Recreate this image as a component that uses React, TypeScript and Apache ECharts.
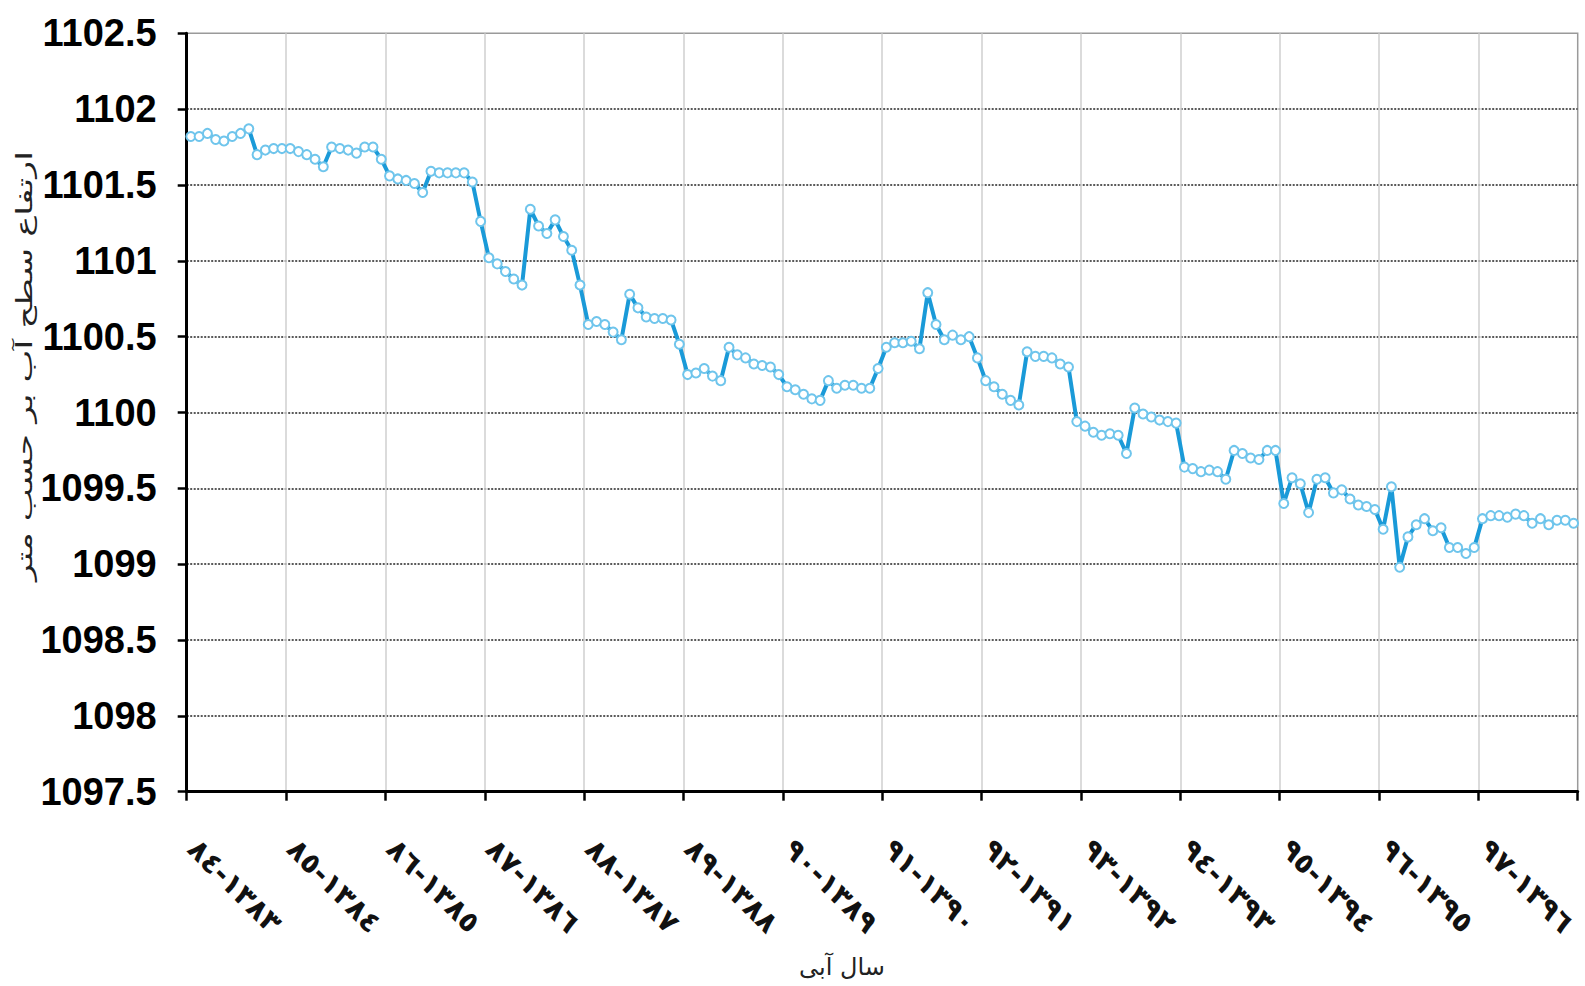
import React, { useEffect, useRef } from "react";
import * as echarts from "echarts";

// Water years (logical order; the bidi algorithm shows them as ٨٤-١٣٨٣ etc.)
const waterYears = [
  "١٣٨٣-٨٤", "١٣٨٤-٨٥", "١٣٨٥-٨٦", "١٣٨٦-٨٧", "١٣٨٧-٨٨", "١٣٨٨-٨٩", "١٣٨٩-٩٠",
  "١٣٩٠-٩١", "١٣٩١-٩٢", "١٣٩٢-٩٣", "١٣٩٣-٩٤", "١٣٩٤-٩٥", "١٣٩٥-٩٦", "١٣٩٦-٩٧",
];

// Monthly water-table elevation (m), one array per water year
const levels1383 = [1101.82, 1101.82, 1101.84, 1101.80, 1101.79, 1101.82, 1101.84, 1101.87, 1101.70, 1101.73, 1101.74, 1101.74];
const levels1384 = [1101.74, 1101.72, 1101.70, 1101.67, 1101.62, 1101.75, 1101.74, 1101.73, 1101.71, 1101.75, 1101.75, 1101.67];
const levels1385 = [1101.56, 1101.54, 1101.53, 1101.51, 1101.45, 1101.59, 1101.58, 1101.58, 1101.58, 1101.58, 1101.52, 1101.26];
const levels1386 = [1101.02, 1100.98, 1100.93, 1100.88, 1100.84, 1101.34, 1101.23, 1101.18, 1101.27, 1101.16, 1101.07, 1100.84];
const levels1387 = [1100.58, 1100.60, 1100.58, 1100.53, 1100.48, 1100.78, 1100.69, 1100.63, 1100.62, 1100.62, 1100.61, 1100.45];
const levels1388 = [1100.25, 1100.26, 1100.29, 1100.24, 1100.21, 1100.43, 1100.38, 1100.36, 1100.32, 1100.31, 1100.30, 1100.25];
const levels1389 = [1100.17, 1100.15, 1100.12, 1100.09, 1100.08, 1100.21, 1100.16, 1100.18, 1100.18, 1100.16, 1100.16, 1100.29];
const levels1390 = [1100.43, 1100.46, 1100.46, 1100.47, 1100.42, 1100.79, 1100.58, 1100.48, 1100.51, 1100.48, 1100.50, 1100.36];
const levels1391 = [1100.21, 1100.17, 1100.12, 1100.08, 1100.05, 1100.40, 1100.37, 1100.37, 1100.36, 1100.32, 1100.30, 1099.94];
const levels1392 = [1099.91, 1099.87, 1099.85, 1099.86, 1099.85, 1099.73, 1100.03, 1099.99, 1099.97, 1099.95, 1099.94, 1099.93];
const levels1393 = [1099.64, 1099.63, 1099.61, 1099.62, 1099.61, 1099.56, 1099.75, 1099.73, 1099.70, 1099.69, 1099.75, 1099.75];
const levels1394 = [1099.40, 1099.57, 1099.53, 1099.34, 1099.56, 1099.57, 1099.47, 1099.49, 1099.43, 1099.39, 1099.38, 1099.36];
const levels1395 = [1099.23, 1099.51, 1098.98, 1099.18, 1099.26, 1099.30, 1099.22, 1099.24, 1099.11, 1099.11, 1099.07, 1099.11];
const levels1396 = [1099.30, 1099.32, 1099.32, 1099.31, 1099.33, 1099.32, 1099.27, 1099.30, 1099.26, 1099.29, 1099.29, 1099.27];

const yearlyLevels = [
  levels1383, levels1384, levels1385, levels1386, levels1387, levels1388, levels1389,
  levels1390, levels1391, levels1392, levels1393, levels1394, levels1395, levels1396,
];

const yMin = 1097.5;
const yMax = 1102.5;
const yStep = 0.5;
const monthsPerYear = 12;

const yTitle = "ارتفاع سطح آب بر حسب متر";
const xTitle = "سال آبی";

export default function App() {
  const ref = useRef<HTMLDivElement>(null);

  useEffect(() => {
    if (!ref.current) return;
    const chart = echarts.init(ref.current, undefined, { renderer: "svg" });

    const months: number[] = [];
    yearlyLevels.forEach((arr) => arr.forEach((v) => months.push(v)));
    const seriesData = months.map((v, i) => [i + 0.5, v]);
    const totalMonths = waterYears.length * monthsPerYear;

    // measure the y title to stretch it along its length like the reference
    const titleFont = "22px 'DejaVu Sans'";
    let scaleLen = 1.7;
    try {
      const c = document.createElement("canvas").getContext("2d");
      if (c) {
        c.font = titleFont;
        const w = c.measureText(yTitle).width;
        if (w > 0) scaleLen = 430 / w;
      }
    } catch (e) {}

    chart.setOption({
      animation: false,
      backgroundColor: "#ffffff",
      grid: {
        left: 186.7,
        right: 7.3,
        top: 33.3,
        bottom: 194.3,
        show: true,
        borderColor: "#9a9a9a",
        borderWidth: 1.5,
        backgroundColor: "transparent",
      },
      xAxis: {
        type: "value",
        min: 0,
        max: totalMonths,
        interval: monthsPerYear,
        axisLine: { show: true, onZero: false, lineStyle: { color: "#000", width: 3 } },
        axisTick: { show: true, length: 9, lineStyle: { color: "#000", width: 2.5 } },
        axisLabel: {
          rotate: -45,
          margin: 46,
          padding: [0, 0, 0, 9],
          fontFamily: "'DejaVu Sans', sans-serif",
          fontWeight: "bold",
          fontSize: 29,
          color: "#111",
          formatter: (v: number) => waterYears[Math.round(v / monthsPerYear)] ?? "",
        },
        splitLine: {
          show: true,
          showMinLine: false,
          showMaxLine: false,
          lineStyle: { color: "#cfcfcf", width: 1.5 },
        },
      },
      yAxis: {
        type: "value",
        min: yMin,
        max: yMax,
        interval: yStep,
        axisLine: { show: true, lineStyle: { color: "#000", width: 3 } },
        axisTick: { show: true, length: 9, lineStyle: { color: "#000", width: 2.5 } },
        axisLabel: {
          margin: 30,
          fontFamily: "'Liberation Sans Narrow', 'Arial Narrow', 'Liberation Sans', Arial, sans-serif",
          fontWeight: "bold",
          fontSize: 38,
          color: "#000",
          formatter: (v: number) => String(v),
        },
        splitLine: {
          show: true,
          showMinLine: false,
          showMaxLine: false,
          lineStyle: { color: "#5a5a5a", width: 2.2, type: [2, 1.5] },
        },
      },
      graphic: [
        {
          type: "text",
          x: 24,
          y: 366,
          rotation: Math.PI / 2,
          scaleX: scaleLen,
          style: {
            text: yTitle,
            font: titleFont,
            fill: "#222",
            textAlign: "center",
            textVerticalAlign: "middle",
          },
        },
        {
          type: "text",
          x: 842,
          y: 967,
          style: {
            text: xTitle,
            font: "24px 'DejaVu Sans'",
            fill: "#222",
            textAlign: "center",
            textVerticalAlign: "middle",
          },
        },
      ],
      series: [
        {
          type: "line",
          data: seriesData,
          symbol: "circle",
          symbolSize: 9,
          itemStyle: { color: "#ffffff", borderColor: "#6fc5ec", borderWidth: 2 },
          lineStyle: { color: "#1a9ad8", width: 4 },
          z: 3,
        },
      ],
    });

    return () => chart.dispose();
  }, []);

  return <div ref={ref} style={{ position: "fixed", left: 0, top: 0, width: 1585, height: 986 }} />;
}
